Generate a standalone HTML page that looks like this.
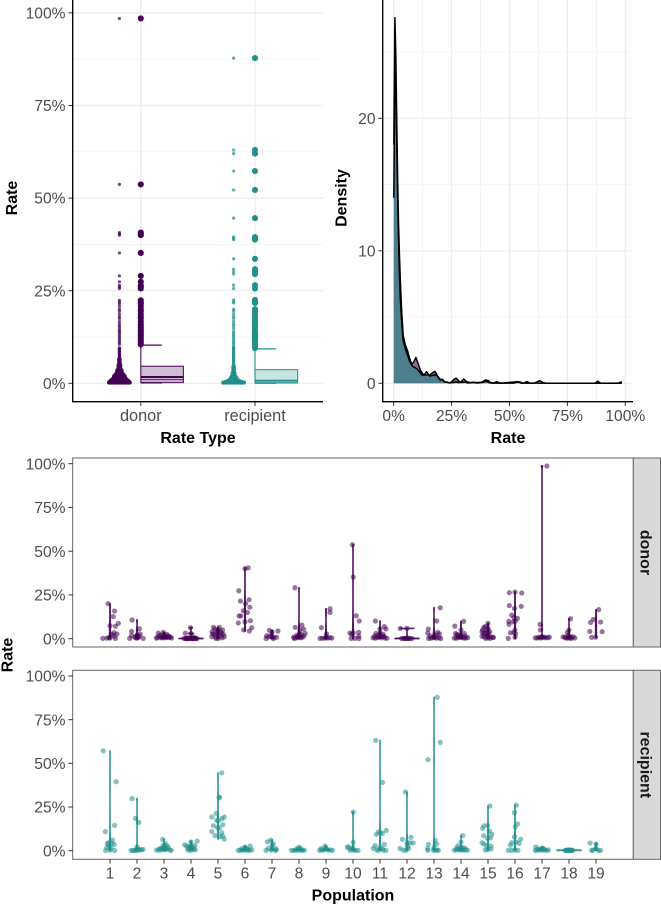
<!DOCTYPE html>
<html lang="en">
<head>
<meta charset="utf-8">
<title>Rate by type and population</title>
<style>
html,body{margin:0;padding:0;background:#fff;}
svg{display:block;font-family:"Liberation Sans",sans-serif;}
</style>
</head>
<body>
<svg id="fig" width="661" height="904" viewBox="0 0 661 904" xmlns="http://www.w3.org/2000/svg">
  <g id="boxPanel"></g>
  <g id="densityPanel"></g>
  <g id="donorPanel"></g>
  <g id="recipientPanel"></g>
</svg>
<script>
// ---- data: top-left panel ----
const rateTicks = [0, 25, 50, 75, 100];
const rateMinorTicks = [12.5, 37.5, 62.5, 87.5];
const typeLabels = ["donor", "recipient"];
const donorOutliers = [98.5,53.7,40.7,40.3,40,35.2,29,27.4,26.4,26,25.6,22.4,21.9,21.5,20.8,20,19.5,18.7,18,17.5,16.7,16,15.5,15,14.4,14,13.5,13,12.5,12,11.5,11,10.5];
const recipientOutliers = [87.8,63,62,57.3,52.2,44.6,39.5,39.2,38.8,33.6,30.8,30.1,29.5,26.5,25.6,22.5,22,21.7,20,19.5,18.7,18,17.5,16.7,16,15.5,14.8,14,13.5,13,12.5,12,11.5,11,10.5,10,9.5];
const swarmRates = [0.1,0.3,0.5,0.8,1.1,1.4,1.7,2,2.4,2.8,3.2,3.6,4,4.5,5,5.5,6,6.5,7,7.5,8,8.5,9,9.5];
const donorSwarmCounts = [18,18,17,15,13,11,10,10,8,6,5,5,3,3,3,2,2,2,1,1,1,1,1,1];
const recipientSwarmCounts = [18,18,14,10,7,6,5,4,3,3,2,2,2,2,1,1,1,1,1,1,1,1,1,1];
const donorBox = {low:0.2, q1:1.0, median:1.7, q3:4.6, whisker:10.3};
const recipientBox = {low:0.1, q1:0.15, median:0.7, q3:3.7, whisker:9.3};

// ---- data: density panel ----
const densityXTicks = [0, 25, 50, 75, 100];
const densityYTicks = [0, 10, 20];
const densityYMinor = [5, 15, 25];
const donorDensityRates = [0.05,0.5,0.9,1.3,1.7,2.1,2.5,2.9,3.4,4.1,5,6,7,7.8,8.6,9.6,10.5,11.5,12.5,13.5,14.5,15.5,16.8,17.8,19,20,21,22,23,24,25,26,27,28,29,30,31,32,35,36,38,39.5,41,42,52,53.7,55,87,88,89,97,98.5];
const donorDensityValues = [18,27.6,25,20,15.5,12,9.6,7.6,5.6,3.6,2.9,2.45,1.8,1.45,1.6,1.95,1.5,1.0,0.72,0.62,0.65,0.62,0.8,0.9,0.55,0.3,0.3,0.12,0.1,0.03,0.1,0.3,0.38,0.2,0.05,0.1,0.1,0.02,0.06,0.02,0.05,0.25,0.2,0.01,0.01,0.12,0.01,0,0,0,0.01,0.12];
const recipientDensityRates = [0.05,0.4,0.8,1.2,1.6,2,2.4,2.8,3.3,4,5,6,7,8,9,10,11,12,13,14.2,15.5,17,18,19,20,21,22,23,24,25,27,28,29,30.3,31.5,33,34,36,39,40,41,43,44.5,46,52,53,54.5,56,57.5,59,61,63,64.5,66,87,88,89.5,98.5];
const recipientDensityValues = [14,22,23.5,19.5,15,11.5,8.6,6.6,5,3.3,2.6,2.1,1.6,1.3,1.2,1.1,0.9,0.65,0.6,0.88,0.55,0.6,0.65,0.5,0.25,0.28,0.1,0.08,0.03,0.04,0.1,0.05,0.1,0.32,0.12,0.05,0.08,0.05,0.1,0.2,0.05,0.02,0.12,0,0.1,0.12,0.1,0,0.12,0,0.03,0.2,0.05,0,0,0.16,0,0];

// ---- data: population panels; each point is [jitter in 1/100 category, rate %] ----
const populations = [1,2,3,4,5,6,7,8,9,10,11,12,13,14,15,16,17,18,19];
const donorPoints = [
 [[-7,20],[17,15.8],[12,12.6],[31,8.8],[0,7.4],[20,7.2],[26,2.7],[15,3.4],[7,2.5],[-27,.2],[-12,.3],[0,.4],[20,.2],[15,1.5],[-4,.6]],
 [[-18,10.7],[9,5.7],[-20,4.2],[12,2.7],[-20,1.7],[-27,.2],[-7,1.1],[0,1.9],[5,.6],[23,.2],[0,.3],[-5,.5],[8,1.5]],
 [[-21,3.2],[-3,3.6],[10,2.5],[-25,.8],[-15,.6],[-8,.5],[0,.5],[8,.6],[16,.7],[24,.8],[-18,1.8],[-10,2],[5,1.5],[15,1.7],[-5,1.2],[3,1],[20,1.2],[-28,.3],[28,.4]],
 [[-2,6.3],[-21,3.1],[0,3],[-25,.1],[-18,.1],[-12,.1],[-6,.2],[0,.2],[6,.1],[12,.3],[18,.1],[-10,.5],[10,1],[22,.1],[-20,.1],[-15,.1],[-8,.1],[3,.1],[8,.1],[15,.1]],
 [[-17,6.5],[5,6.5],[17,5],[-22,4],[-5,3],[13,3],[23,1.1],[-23,1.1],[-7,.2],[1,.2],[-12,5.5],[0,5],[10,4],[-15,2.5],[-3,4.5],[8,1.8],[-10,1],[15,.5],[-20,2.8],[20,2.5]],
 [[12,40.5],[0,40],[-23,27.4],[15,22.3],[-17,21.5],[2,20],[18,18],[-6,16],[9,15],[-22,13],[-15,13],[-25,9],[0,9.7],[20,10.3],[25,6.3],[-5,5],[16,4.4]],
 [[-10,4.8],[22,4.4],[0,3.8],[-20,1.7],[-22,.1],[-5,1.9],[7,.8],[17,.8],[5,.1],[-12,1]],
 [[-15,29.1],[-14,6.5],[11,7.8],[17,5.5],[4,5],[23,3],[-18,.2],[-12,.4],[-6,.6],[0,1],[6,.5],[12,.8],[18,1.5],[-8,2],[2,2.8],[-3,1.5],[8,2.4],[-20,.9]],
 [[15,17.1],[15,15],[-17,6.3],[2,2.7],[-22,.2],[-14,.3],[-5,.3],[0,.6],[6,.4],[14,.6],[22,.4]],
 [[-2,53.7],[1,35.2],[12,13.1],[23,10.1],[-11,3.2],[1,3.2],[21,3.6],[21,1.5],[-7,.2],[7,.2],[22,.1],[-5,2.6]],
 [[-17,10.1],[16,6.9],[22,5.5],[-15,3],[0,3.4],[-26,.5],[-18,.3],[-10,.6],[-4,1],[4,.5],[10,1.4],[18,.4],[26,.3],[12,2.5],[-8,2],[-20,1.5],[15,1.2],[0,5.5]],
 [[-25,5.9],[0,5.9],[-20,.1],[-12,.1],[-5,.1],[3,.1],[10,.1],[18,.1],[0,.3],[5,.2],[-8,.2]],
 [[23,17.7],[10,10.1],[-21,5.5],[-23,3.2],[14,3.6],[20,2.7],[-20,.2],[-12,.3],[-5,.5],[3,.6],[10,.3],[18,.6],[25,.1],[-15,1.6],[0,1.2],[7,2]],
 [[10,9.9],[-23,7.2],[0,5],[-20,3],[12,3],[-25,.4],[-18,.3],[-10,.5],[-4,.9],[4,.6],[11,.4],[18,.3],[25,.7],[-12,1.7],[-4,2.2],[15,1.5],[-15,2.5]],
 [[0,8.8],[-10,7],[-15,6.5],[0,6],[-20,5.1],[-5,5],[6,4.2],[-22,4],[-12,3.5],[-17,2.6],[-8,3],[3,3],[-2,1.8],[11,1],[18,.8],[-14,1],[-8,.2],[0,.4],[8,.2],[20,.7],[-22,1.4]],
 [[-21,26.3],[0,26.7],[25,26.1],[-21,18.9],[-2,17.3],[23,18.5],[-12,13.5],[9,11.6],[-4,12],[-23,9.9],[-6,9.7],[-22,8.2],[1,10],[0,5],[-4,3.6],[-17,3.4],[2,2.7],[-25,.2],[0,.8]],
 [[18,98.7],[-7,8.2],[-6,5],[-25,.5],[-18,.4],[-12,.8],[-5,.4],[2,.7],[8,1],[14,.5],[22,.6],[27,.9],[-2,1.2]],
 [[6,11.4],[0,5],[-6,3.6],[-2,2],[-22,1],[-12,.4],[-5,.3],[2,.5],[9,.8],[15,1.1],[22,.4],[-15,.9],[8,.1]],
 [[10,16.6],[-10,11],[-20,9.3],[17,9.5],[-23,4.2],[23,4],[-16,.8],[-1,.8]]
];
const recipientPoints = [
 [[-25,57.2],[23,39.5],[17,14.5],[-17,11],[9,6.1],[16,3.6],[-6,4.6],[6,4.2],[-12,1.9],[-16,.1],[17,.1],[0,.3],[5,1.5],[-4,2.5],[-10,4]],
 [[-18,29.8],[-6,18.5],[7,16.2],[0,2.3],[-22,.1],[-16,.1],[-10,.2],[-4,.2],[3,.3],[10,.4],[17,.5],[22,.8],[6,1]],
 [[-5,6.5],[4,4.2],[10,3],[-28,.3],[-20,.8],[-13,1.2],[-6,.9],[0,.6],[7,.8],[14,1],[21,.5],[27,.2],[-15,.2],[2,2],[-9,1.6],[16,2],[-2,3]],
 [[-23,3.4],[23,5.5],[0,5],[-16,2.6],[-10,1.5],[-4,1],[4,1.2],[10,.6],[16,.5],[-12,.4],[-2,.2],[8,2],[14,3],[-7,2.4]],
 [[14,44.5],[5,30.7],[5,30.3],[-7,21.4],[-23,19.3],[23,19.3],[15,18.3],[-5,17.4],[1,17.2],[-17,14.3],[18,14.9],[-2,13.2],[5,13],[-23,11],[14,10.3],[17,8.4],[-11,8.6],[8,8],[23,6.7]],
 [[19,2.7],[-25,.2],[-18,.3],[-10,.2],[-4,.5],[3,.3],[10,.4],[17,.2],[25,.5],[-12,1.2],[0,2],[8,1.2]],
 [[-5,6.1],[-17,5],[5,3.8],[-22,.2],[12,.2],[14,1.2],[-14,1.4],[-3,.3],[0,3],[16,.5]],
 [[0,2],[-28,.2],[-20,.2],[-12,.3],[-5,.3],[5,.4],[12,.2],[20,.3],[-8,1.1],[6,1.2]],
 [[-4,2.7],[-24,.2],[-16,.4],[-8,.3],[0,1.5],[8,.3],[16,.5],[24,.2],[-18,1.3]],
 [[1,22.1],[1,4.8],[-17,2.3],[-21,1.9],[-11,.2],[19,.2],[3,.3],[-8,1.2],[9,.2]],
 [[-16,63.2],[9,39.1],[23,11.6],[9,9.9],[-6,10.7],[-14,9.3],[2,10.3],[16,3.6],[-18,2.9],[-25,1.3],[9,1],[22,.2],[-12,.4],[0,1.8],[12,.3],[-5,.2]],
 [[-6,33.6],[15,7.6],[-17,6.5],[23,4.4],[11,4.6],[0,4.2],[-26,1.3],[-14,.4],[-4,.2],[6,1.3],[3,2.5]],
 [[12,87.8],[23,62],[-22,52.1],[5,5.9],[-21,3.6],[10,3.8],[-23,.2],[-23,1.2],[-2,.2],[5,.3],[12,.4],[16,.2],[0,1.5]],
 [[7,8.6],[0,5],[-12,2.8],[-25,.3],[-18,.5],[-10,.6],[-3,.4],[4,.5],[11,.3],[18,.7],[24,.3],[-15,1.5],[3,2],[13,1.6]],
 [[7,25.6],[-1,14.5],[-15,14.3],[-20,12.8],[5,11.3],[14,9.5],[-16,8.6],[10,7.4],[-1,7],[-22,4.6],[-15,3.8],[11,2.7],[-5,2.7],[-10,.4],[11,1],[0,.6]],
 [[5,26.1],[-2,21.8],[10,15.3],[1,13.5],[-2,8],[21,6.5],[4,5],[-12,4.6],[-17,3.2],[15,4.2],[-25,.2],[-12,.2],[11,.2],[0,.4]],
 [[-23,2.1],[0,1.5],[-25,.2],[-18,.4],[-10,.3],[-4,.7],[4,.3],[10,.6],[17,.2],[24,.4],[-14,1],[7,1.1]],
 [[-14,.2],[-9,.3],[-4,.4],[0,.5],[4,.3],[9,.2],[14,.3],[-6,.2],[6,.2],[0,.1],[-2,.3],[2,.2],[11,.2],[-11,.2]],
 [[-22,4.4],[0,3.8],[-16,.2],[-1,1.3],[9,.2],[17,.2],[-12,.3]]
];

// ---- scales ----
const DONOR = "#440154", RECIP = "#21908c", SVGNS = "http://www.w3.org/2000/svg";
const boxY = v => 383.3 - 3.704 * v;
const boxCatX = i => 140.8 + 114.2 * i;
const densX = r => 393.7 + 2.316 * r;
const densY = d => 383.3 - 13.25 * d;
const popX = p => 110 + 27 * (p - 1);
const donorY = v => 638.7 - 1.75 * v;
const recipY = v => 850.7 - 1.747 * v;

function mk(parent, tag, props, text) {
  const el = document.createElementNS(SVGNS, tag);
  for (const k in props) el.setAttribute(k, props[k]);
  if (text !== undefined) el.textContent = text;
  parent.appendChild(el);
  return el;
}
const TICK_TEXT = {fill:"#4d4d4d", "font-size":"15.6"};
const TYPE_TEXT = {fill:"#4d4d4d", "font-size":"16.3"};
const TITLE_TEXT = {fill:"#000", "font-size":"16", "font-weight":"bold"};

// ---- top-left panel ----
(function(){
  const g = document.getElementById("boxPanel");
  rateMinorTicks.forEach(v => {
    const el = mk(g, "line", {x1:73, x2:323, y1:boxY(v), y2:boxY(v), stroke:"#f0f0f0", "stroke-width":0.7});
    
    
  });
  rateTicks.forEach(v => {
    const el = mk(g, "line", {x1:73, x2:323, y1:boxY(v), y2:boxY(v), stroke:"#ebebeb", "stroke-width":1.2});
    
    
  });
  typeLabels.forEach((t, i) => {
    const el = mk(g, "line", {x1:boxCatX(i), x2:boxCatX(i), y1:0, y2:401.7, stroke:"#ebebeb", "stroke-width":1.2});
    
    
  });
  [[donorSwarmCounts, donorOutliers, donorBox, DONOR, "donor"], [recipientSwarmCounts, recipientOutliers, recipientBox, RECIP, "recipient"]].forEach((s, i) => {
    const [counts, outs, box, col, nm] = s;
    const cx = boxCatX(i), sx = cx - 21.4;
    swarmRates.forEach((r, k) => {
      for (let n = 0; n < counts[k]; n++) {
        const el = mk(g, "circle", {cx:sx + (n - (counts[k]-1)/2) * 1.25, cy:boxY(r), r:1.7, fill:col, "fill-opacity":0.9});
        
        
      }
    });
    outs.forEach(v => {
      const small = mk(g, "circle", {cx:sx, cy:boxY(v), r:1.6, fill:col, "fill-opacity":0.72});
      
      
      const big = mk(g, "circle", {cx:cx, cy:boxY(v), r:3.05, fill:col});
      
      
    });
    const rect = mk(g, "rect", {x:cx, y:boxY(box.q3), width:42.6, height:boxY(box.low)-boxY(box.q3), fill:col, "fill-opacity":0.25, stroke:col, "stroke-opacity":0.85, "stroke-width":1.2});
    
    
    const med = mk(g, "line", {x1:cx, x2:cx+42.6, y1:boxY(box.median), y2:boxY(box.median), stroke:col, "stroke-width":1.9});
    
    
    const q1 = mk(g, "line", {x1:cx, x2:cx+42.6, y1:boxY(box.q1), y2:boxY(box.q1), stroke:col, "stroke-opacity":0.85, "stroke-width":1});
    
    
    const wh = mk(g, "line", {x1:cx, x2:cx, y1:boxY(box.whisker), y2:boxY(box.q3), stroke:col, "stroke-opacity":0.85, "stroke-width":1.2});
    
    
    const cap = mk(g, "line", {x1:cx, x2:cx+21, y1:boxY(box.whisker), y2:boxY(box.whisker), stroke:col, "stroke-width":1.2});
    
    
    const cap2 = mk(g, "line", {x1:cx, x2:cx+21, y1:boxY(box.low)+0.4, y2:boxY(box.low)+0.4, stroke:col, "stroke-width":1.2});
    
    
    const tk = mk(g, "line", {x1:cx, x2:cx, y1:401.7, y2:406, stroke:"#333", "stroke-width":1});
    
    
    const lb = mk(g, "text", Object.assign({x:cx, y:420.8, "text-anchor":"middle"}, TYPE_TEXT), typeLabels[i]);
    
    
  });
  rateTicks.forEach(v => {
    const tk = mk(g, "line", {x1:68.4, x2:72.7, y1:boxY(v), y2:boxY(v), stroke:"#333", "stroke-width":1});
    
    
    const lb = mk(g, "text", Object.assign({x:65.5, y:boxY(v)+5.6, "text-anchor":"end"}, TICK_TEXT), v + "%");
    
    
  });
  const ay = mk(g, "line", {x1:72.7, x2:72.7, y1:0, y2:402.3, stroke:"#000", "stroke-width":1.35});
  
  
  const ax = mk(g, "line", {x1:72.1, x2:323, y1:401.7, y2:401.7, stroke:"#000", "stroke-width":1.35});
  
  
  const xt = mk(g, "text", Object.assign({x:198, y:443, "text-anchor":"middle"}, TITLE_TEXT), "Rate Type");
  
  
  const yt = mk(g, "text", Object.assign({transform:"translate(16.8,198) rotate(-90)", "text-anchor":"middle"}, TITLE_TEXT), "Rate");
  
  
})();

// ---- density panel ----
(function(){
  const g = document.getElementById("densityPanel");
  densityYMinor.forEach(d => {
    const el = mk(g, "line", {x1:383, x2:633, y1:densY(d), y2:densY(d), stroke:"#f0f0f0", "stroke-width":0.7});
    
    
  });
  densityYTicks.forEach(d => {
    const el = mk(g, "line", {x1:383, x2:633, y1:densY(d), y2:densY(d), stroke:"#ebebeb", "stroke-width":1.2});
    
    
  });
  densityXTicks.forEach((r, i) => {
    const el = mk(g, "line", {x1:densX(r), x2:densX(r), y1:0, y2:401.7, stroke:"#ebebeb", "stroke-width":1.2});
    
    
    if (i < densityXTicks.length - 1) {
      const mr = (r + densityXTicks[i+1]) / 2;
      const m = mk(g, "line", {x1:densX(mr), x2:densX(mr), y1:0, y2:401.7, stroke:"#f0f0f0", "stroke-width":0.7});
      
      
    }
  });
  function curve(rs, ds) { return rs.map((r, i) => densX(r).toFixed(2) + "," + densY(ds[i]).toFixed(2)).join(" L"); }
  function area(rs, ds) { return "M" + densX(rs[0]).toFixed(2) + "," + densY(0) + " L" + curve(rs, ds) + " L" + densX(rs[rs.length-1]).toFixed(2) + "," + densY(0) + " Z"; }
  const a1 = mk(g, "path", {d:area(donorDensityRates, donorDensityValues), fill:DONOR, "fill-opacity":0.6});
  
  
  const a2 = mk(g, "path", {d:area(recipientDensityRates, recipientDensityValues), fill:RECIP, "fill-opacity":0.6});
  
  
  const l1 = mk(g, "path", {d:"M" + curve(donorDensityRates, donorDensityValues), fill:"none", stroke:"#000", "stroke-width":1.5, "stroke-linejoin":"round"});
  
  
  const l2 = mk(g, "path", {d:"M" + curve(recipientDensityRates, recipientDensityValues), fill:"none", stroke:"#000", "stroke-width":1.5, "stroke-linejoin":"round"});
  
  
  densityXTicks.forEach(r => {
    const tk = mk(g, "line", {x1:densX(r), x2:densX(r), y1:401.7, y2:406, stroke:"#333", "stroke-width":1});
    
    
    const lb = mk(g, "text", Object.assign({x:densX(r), y:421, "text-anchor":"middle"}, TICK_TEXT), r + "%");
    
    
  });
  densityYTicks.forEach(d => {
    const tk = mk(g, "line", {x1:378.4, x2:382.7, y1:densY(d), y2:densY(d), stroke:"#333", "stroke-width":1});
    
    
    const lb = mk(g, "text", Object.assign({x:375.5, y:densY(d)+5.6, "text-anchor":"end"}, TICK_TEXT), String(d));
    
    
  });
  const ay = mk(g, "line", {x1:382.7, x2:382.7, y1:0, y2:402.3, stroke:"#000", "stroke-width":1.35});
  
  
  const ax = mk(g, "line", {x1:382.1, x2:633, y1:401.7, y2:401.7, stroke:"#000", "stroke-width":1.35});
  
  
  const xt = mk(g, "text", Object.assign({x:508, y:443, "text-anchor":"middle"}, TITLE_TEXT), "Rate");
  
  
  const yt = mk(g, "text", Object.assign({transform:"translate(346.5,198) rotate(-90)", "text-anchor":"middle"}, TITLE_TEXT), "Density");
  
  
})();

// ---- population panels ----
function violinPath(vals, cx, yScale) {
  const n = vals.length, mean = vals.reduce((a,b)=>a+b,0)/n;
  const sd = Math.sqrt(vals.reduce((a,b)=>a+(b-mean)*(b-mean),0)/Math.max(1,n-1));
  const sorted = vals.slice().sort((a,b)=>a-b);
  const q = p => { const h=(n-1)*p, l=Math.floor(h); return sorted[l]+(sorted[Math.min(n-1,l+1)]-sorted[l])*(h-l); };
  const iqr = (q(.75)-q(.25))/1.34;
  const bw = Math.max(0.04, 0.9*Math.min(sd, iqr>0?iqr:sd)*Math.pow(n,-0.2));
  const lo = sorted[0], hi = sorted[n-1], steps = 80;
  const L = [], R = [];
  for (let i = 0; i <= steps; i++) {
    const v = lo + (hi-lo)*i/steps;
    let d = 0;
    vals.forEach(x => { const z=(v-x)/bw; d += Math.exp(-0.5*z*z); });
    d = d/(n*bw*2.5066);
    const hw = Math.min(12, 6*d);
    L.push((cx-hw).toFixed(2)+","+yScale(v).toFixed(2));
    R.unshift((cx+hw).toFixed(2)+","+yScale(v).toFixed(2));
  }
  return "M"+L.concat(R).join(" L")+" Z";
}
function drawPop(gid, pts, col, top, bottom, yScale, strip, showX) {
  const g = document.getElementById(gid);
  const panel = mk(g, "rect", {x:72.7, y:top, width:560.6, height:bottom-top, fill:"#fff", stroke:"#666", "stroke-width":1});
  
  
  pts.forEach((list, i) => {
    const cx = popX(populations[i]);
    const vals = list.map(p => p[1]);
    const vio = mk(g, "path", {d:violinPath(vals, cx, yScale), fill:col, "fill-opacity":0.9, stroke:col, "stroke-opacity":0.9, "stroke-width":1.6, "stroke-linejoin":"round"});
    
    
    list.forEach(p => {
      const c = mk(g, "circle", {cx:cx + p[0]*0.27, cy:yScale(p[1]), r:2.6, fill:col, "fill-opacity":0.55});
      
      
    });
  });
  rateTicks.forEach(v => {
    const tk = mk(g, "line", {x1:68.4, x2:72.7, y1:yScale(v), y2:yScale(v), stroke:"#333", "stroke-width":1});
    
    
    const lb = mk(g, "text", Object.assign({x:65.5, y:yScale(v)+5.6, "text-anchor":"end"}, TICK_TEXT), v + "%");
    
    
  });
  const st = mk(g, "rect", {x:633.3, y:top, width:27.2, height:bottom-top, fill:"#d9d9d9", stroke:"#666", "stroke-width":1});
  
  
  const cy = (top+bottom)/2;
  const stx = mk(g, "text", {transform:"translate(640.7,"+cy+") rotate(90)", "text-anchor":"middle", fill:"#1a1a1a", "font-size":"16", "font-weight":"bold"}, strip);
  
  
  if (showX) {
    populations.forEach(p => {
      const tk = mk(g, "line", {x1:popX(p), x2:popX(p), y1:bottom, y2:bottom+4.3, stroke:"#333", "stroke-width":1});
      
      
      const lb = mk(g, "text", Object.assign({x:popX(p), y:878.5, "text-anchor":"middle"}, TICK_TEXT), String(p));
      
      
    });
  }
}
drawPop("donorPanel", donorPoints, DONOR, 458, 647, donorY, "donor", false);
drawPop("recipientPanel", recipientPoints, RECIP, 670.3, 859.3, recipY, "recipient", true);
(function(){
  const g = document.getElementById("recipientPanel");
  const xt = mk(g, "text", Object.assign({x:353, y:900.5, "text-anchor":"middle"}, TITLE_TEXT), "Population");
  
  
  const yt = mk(g, "text", Object.assign({transform:"translate(12.3,655) rotate(-90)", "text-anchor":"middle"}, TITLE_TEXT), "Rate");
  
  
})();
</script>
</body>
</html>
